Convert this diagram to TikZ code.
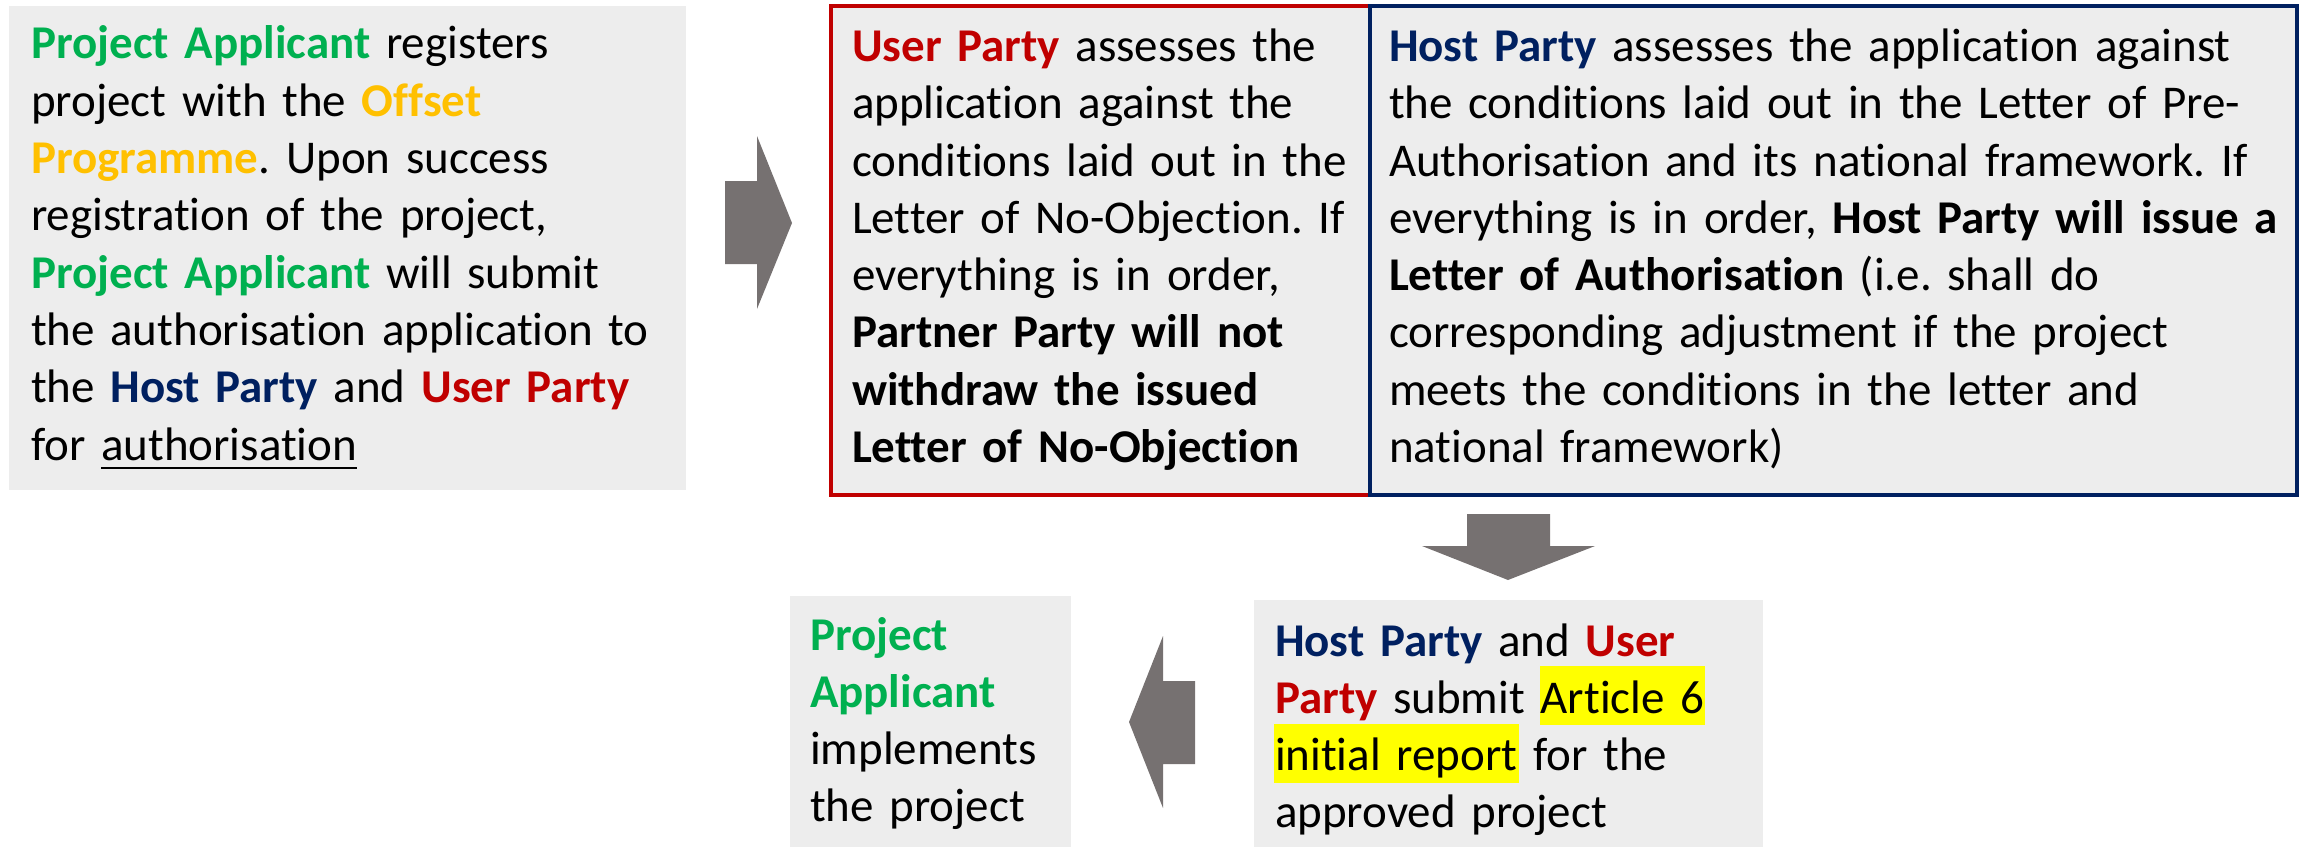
\documentclass[tikz,border=0pt]{standalone}
\usepackage{fontspec}
\setmainfont{Carlito}[Ligatures=NoCommon]
\usepackage{xcolor}
\usepackage{tikz}
\usetikzlibrary{positioning}

\definecolor{pgreen}{HTML}{00B050}
\definecolor{porange}{HTML}{FFC000}
\definecolor{pblue}{HTML}{002060}
\definecolor{pred}{HTML}{C00000}
\definecolor{boxgray}{HTML}{EDEDED}
\definecolor{arrgray}{HTML}{767171}
\definecolor{hlyellow}{HTML}{FFFF00}

\newbox\markbox
\newcommand{\applicant}[1]{\textcolor{pgreen}{\textbf{#1}}}
\newcommand{\hostp}[1]{\textcolor{pblue}{\textbf{#1}}}
\newcommand{\userp}[1]{\textcolor{pred}{\textbf{#1}}}
\newcommand{\markyellow}[1]{\leavevmode\setbox\markbox\hbox{#1}%
  \smash{\rlap{\kern-1pt\color{hlyellow}\rule[-12pt]{\dimexpr\wd\markbox+2pt\relax}{59pt}}}\box\markbox}
\newcommand{\undl}[1]{\leavevmode\setbox\markbox\hbox{#1}%
  \smash{\rlap{\rule[-9pt]{\wd\markbox}{2.5pt}}}\box\markbox}

\begin{document}
\frenchspacing
\begin{tikzpicture}[x=1pt, y=-1pt,
                stepbox/.style={rectangle, fill=boxgray, outer sep=0pt, inner ysep=0pt,
                    align=left, anchor=north west,
                    font={\fontsize{47}{57.3}\selectfont\frenchspacing}},
                userbox/.style={stepbox, draw=pred, line width=3.5pt},
                hostbox/.style={stepbox, draw=pblue, line width=3.5pt},
                blockarr/.style={fill=arrgray}]
                \useasboundingbox (0,0) rectangle (2305,846);
                % top row
                \node [stepbox, inner xsep=22pt, text width=633pt, minimum height=484pt]
                    (register) at (9,6) {\strut\applicant{Project Applicant} registers\\
                    project with the \textcolor{porange}{\textbf{Offset}}\\
                    \textcolor{porange}{\textbf{Programme}}. Upon success\\
                    registration of the project,\\
                    \applicant{Project Applicant} will submit\\
                    the authorisation application to\\
                    the \hostp{Host Party} and \userp{User Party}\\
                    for \undl{authorisation}\strut};
                \node [userbox, inner xsep=21pt, text width=497pt, minimum height=489pt]
                    (userassess) at (831,6) {\strut\userp{User Party} assesses the\\
                    application against the\\
                    conditions laid out in the\\
                    Letter of No-Objection. If\\
                    everything is in order,\\
                    \textbf{Partner Party will not}\\
                    \textbf{withdraw the issued}\\
                    \textbf{Letter of No-Objection}\strut};
                \node [hostbox, inner xsep=19pt, text width=889pt, minimum height=489pt]
                    (hostassess) at (1370,6) {\strut\hostp{Host Party} assesses the application against\\
                    the conditions laid out in the Letter of Pre-\\
                    Authorisation and its national framework. If\\
                    everything is in order, \textbf{Host Party will issue a}\\
                    \textbf{Letter of Authorisation} (i.e. shall do\\
                    corresponding adjustment if the project\\
                    meets the conditions in the letter and\\
                    national framework)\strut};
                % bottom row
                \node [stepbox, inner xsep=21pt, text width=467pt, minimum height=261pt]
                    (report) at (1254,600) {\strut\hostp{Host Party} and \userp{User}\\
                    \userp{Party} submit \markyellow{Article 6}\\
                    \markyellow{initial report} for the\\
                    approved project\strut};
                \node [stepbox, inner xsep=20pt, text width=241pt, minimum height=257pt]
                    (implement) at (790,596) {\strut\applicant{Project}\\
                    \applicant{Applicant}\\
                    implements\\
                    the project\strut};
                % block arrows
                \fill [blockarr] (725,181) -- (757,181) -- (757,136) -- (792,223)
                    -- (757,309) -- (757,264) -- (725,264) -- cycle;
                \fill [blockarr] (1467,514) -- (1550,514) -- (1550,546) -- (1595,546)
                    -- (1508,580) -- (1422,546) -- (1467,546) -- cycle;
                \fill [blockarr] (1195,681) -- (1163,681) -- (1163,636) -- (1129,722)
                    -- (1163,808) -- (1163,764) -- (1195,764) -- cycle;
        \end{tikzpicture}
\end{document}
